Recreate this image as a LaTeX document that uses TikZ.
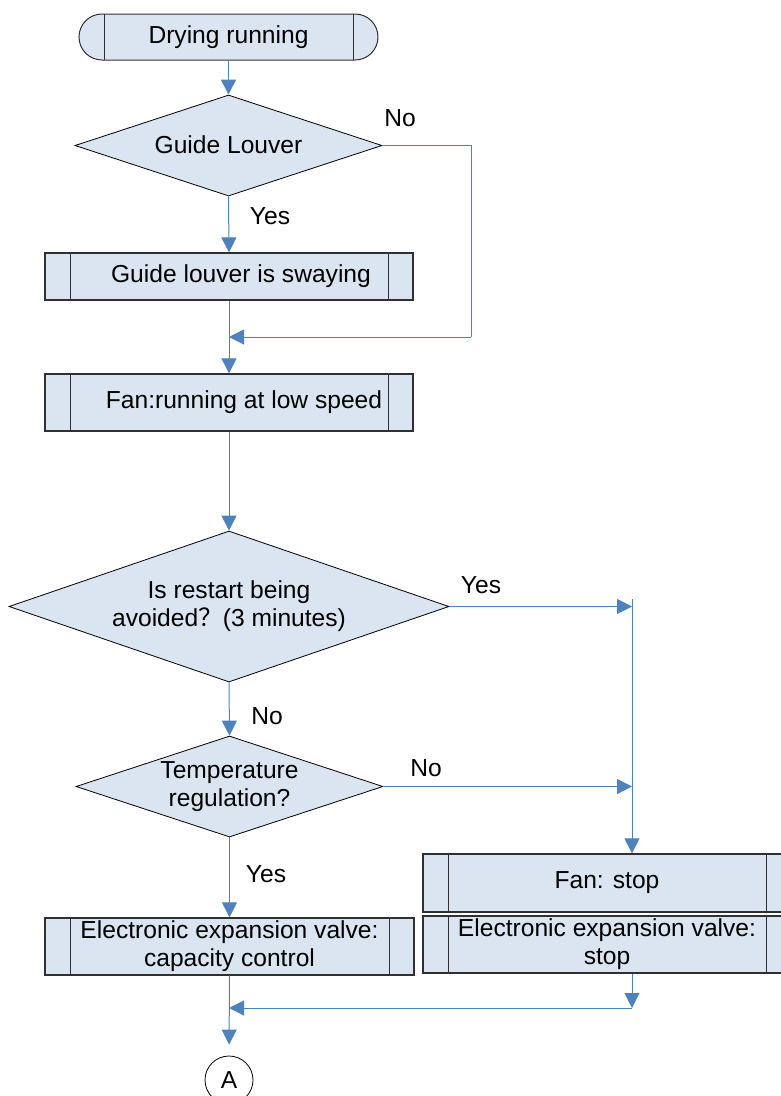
\documentclass[tikz,border=0pt]{standalone}
\usepackage{fontspec}
\setmainfont{Liberation Sans}
\newfontfamily\cjk{Noto Sans CJK SC}
\usetikzlibrary{shapes.geometric,arrows.meta,calc}
\definecolor{boxfill}{HTML}{DBE5F1}
\definecolor{linkblue}{HTML}{4F81BD}
\definecolor{boxline}{HTML}{303030}
\tikzset{
  base/.style={fill=boxfill, inner sep=0pt, align=center, font=\fontsize{24.6}{28}\selectfont},
  inlines/.style={path picture={
      \draw[boxline, line width=1pt] ([xshift=25pt]path picture bounding box.north west) -- ([xshift=25pt]path picture bounding box.south west);
      \draw[boxline, line width=1pt] ([xshift=-25pt]path picture bounding box.north east) -- ([xshift=-25pt]path picture bounding box.south east);}},
  procbox/.style={base, rectangle, draw=boxline, line width=1.3pt, inlines},
  termbox/.style={base, rectangle, rounded corners=23pt, draw=boxline, line width=1pt, inlines, minimum width=299pt, minimum height=46pt},
  decbox/.style={base, diamond, draw=black, line width=0.8pt},
  conn/.style={draw=linkblue, line width=1pt},
  arr/.style={conn, -{Triangle[length=15pt,width=15pt]}},
  lbl/.style={font=\fontsize{24.6}{28}\selectfont, inner sep=0pt},
}
\begin{document}
\begin{tikzpicture}[x=1pt,y=-1pt]
\path[use as bounding box, clip] (0,0) rectangle (781,1096);

\node[termbox] (start) at (228.5,37) {\raisebox{2pt}{Drying running}};
\node[decbox, minimum width=307pt, minimum height=101pt, aspect=3.04] (d1) at (228.5,145.5) {\raisebox{2pt}{Guide Louver}};
\node[procbox, minimum width=368pt, minimum height=47pt] (b2) at (229,276.5) {\hspace*{24pt}Guide louver is swaying};
\node[procbox, minimum width=368pt, minimum height=57pt] (b3) at (229,402.5) {\hspace*{30pt}Fan:running at low speed};
\node[decbox, minimum width=440pt, minimum height=151pt, aspect=2.91] (d2) at (229,606.5) {Is restart being\\avoided{\cjk ？}(3 minutes)};
\node[decbox, minimum width=307pt, minimum height=101pt, aspect=3.04] (d3) at (229.5,786.5) {Temperature\\regulation?};
\node[procbox, minimum width=369pt, minimum height=57pt] (b4) at (229.5,946.5) {Electronic expansion valve:\\capacity control};
\node[procbox, minimum width=368pt, minimum height=58pt] (fstop) at (607,883) {Fan: stop};
\node[procbox, minimum width=368pt, minimum height=57pt] (estop) at (607,944.5) {Electronic expansion valve:\\stop};
\node[circle, draw=black, line width=0.8pt, minimum size=48pt, inner sep=0pt, font=\fontsize{24.6}{28}\selectfont] (A) at (229,1080) {A};

\coordinate (m1) at (229,337);
\coordinate (r1) at (471,145.5);
\coordinate (r2) at (471,337);
\coordinate (j0) at (632,599);
\coordinate (j1) at (632,1008);
\coordinate (m2) at (229,1008);

\draw[arr] (start.south) -- (d1.north);
\draw[arr] (d1.south) -- (b2.north);
\draw[conn] (d1.east) -- (r1) -- (r2);
\draw[arr] (r2) -- (m1);
\draw[arr] (b2.south) -- (b3.north);
\draw[arr] (b3.south) -- (d2.north);
\draw[arr] (d2.east) -- (d2.east -| j0);
\draw[arr] (j0) -- (j0 |- fstop.north);
\draw[arr] (d2.south) -- (d3.north);
\draw[arr] (d3.east) -- (d3.east -| j0);
\draw[arr] (d3.south) -- (b4.north);
\draw[arr] (j0 |- estop.south) -- (j1);
\draw[arr] (j1) -- (m2);
\draw[arr, shorten >=11pt] (b4.south) -- (A.north);

\node[lbl] (lno1) at (400,118) {No};
\node[lbl] (lyes1) at (270,216) {Yes};
\node[lbl] (lyes2) at (481,585) {Yes};
\node[lbl] (lno2) at (267,716) {No};
\node[lbl] (lno3) at (426,768) {No};
\node[lbl] (lyes3) at (266,874) {Yes};
\end{tikzpicture}
\end{document}
